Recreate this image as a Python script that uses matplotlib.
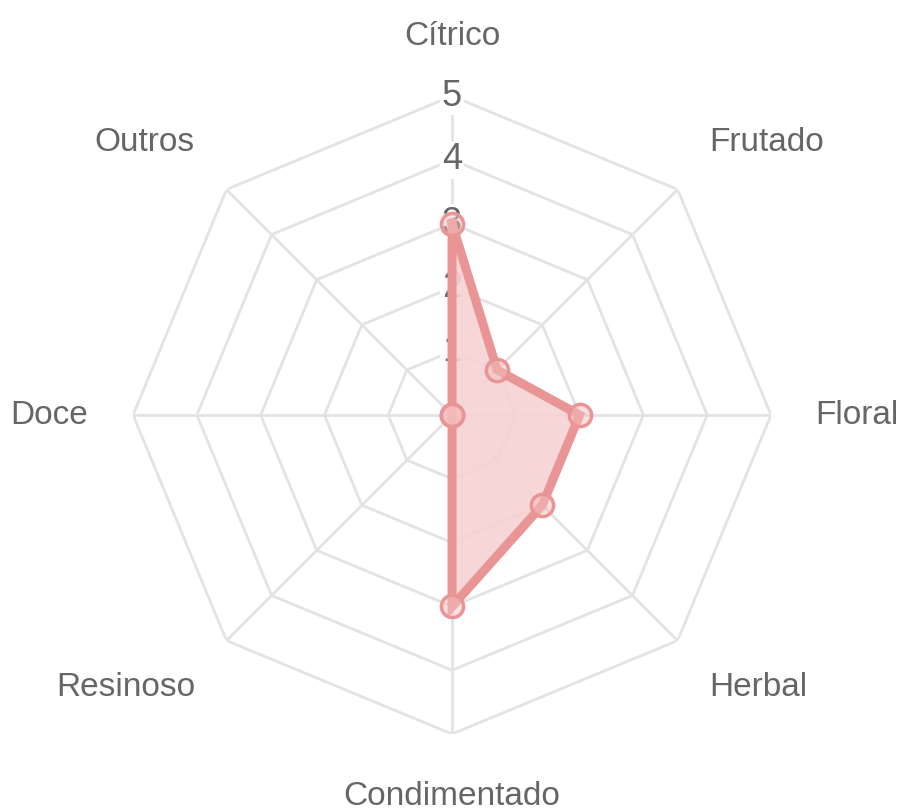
import numpy as np
import matplotlib
matplotlib.use("Agg")
import matplotlib.pyplot as plt

plt.rcParams['font.family'] = ['Liberation Sans', 'DejaVu Sans']

categorias = ["Cítrico", "Frutado", "Floral", "Herbal", "Condimentado", "Resinoso", "Doce", "Outros"]
valores = [3, 1, 2, 2, 3, 0, 0, 0]
ticks = [1, 2, 3, 4, 5]
rmax = 5

n = len(categorias)
ang = np.linspace(0, 2 * np.pi, n, endpoint=False)

fig = plt.figure(figsize=(9.02, 8.11), dpi=100)
ax = fig.add_axes([0.1475, 0.0949, 0.7073, 0.7867], projection="polar")
ax.set_theta_zero_location("N")
ax.set_theta_direction(-1)
ax.set_ylim(0, rmax)
ax.grid(False)
ax.spines["polar"].set_visible(False)
ax.set_xticks([])
ax.set_yticks([])
ax.patch.set_alpha(0)

grid_c = "#e3e3e3"
# anéis octogonais
angc = np.append(ang, ang[0])
for t in ticks:
    ax.plot(angc, [t] * (n + 1), color=grid_c, lw=2, zorder=1)
# raios
for a in ang:
    ax.plot([a, a], [0, rmax], color=grid_c, lw=2, zorder=1)

# rótulos dos ticks
for t in ticks:
    ax.text(0, t, str(t), ha="center", va="center", fontsize=26, color="#666666",
            zorder=2, bbox=dict(boxstyle="square,pad=0.05", fc="white", ec="none"))

# dados
v = np.append(valores, valores[0])
ax.fill(angc, v, color="#f6d2d2", alpha=0.9, zorder=3)
ax.plot(angc, v, color="#e99595", lw=6.5, zorder=4, solid_joinstyle="miter")
ax.plot(ang, valores, "o", ms=16, mfc=(0.96, 0.75, 0.75, 0.5), mec="#e99595",
        mew=2.5, zorder=5, clip_on=False)

# rótulos das categorias
for a, c in zip(ang, categorias):
    s, co = np.sin(a), np.cos(a)
    r = 5.7
    if abs(s) < 0.1:
        ha = "center"
    else:
        ha = "left" if s > 0 else "right"
    if abs(co) < 0.1:
        va = "center"
    else:
        va = "bottom" if co > 0 else "top"
    if co > 0.9:
        va, r = "baseline", 5.8
    elif co < -0.9:
        va, r = "baseline", 6.12
    ax.text(a, r, c, ha=ha, va=va, fontsize=24, color="#666666", clip_on=False)

fig.savefig("out.png", dpi=100)
